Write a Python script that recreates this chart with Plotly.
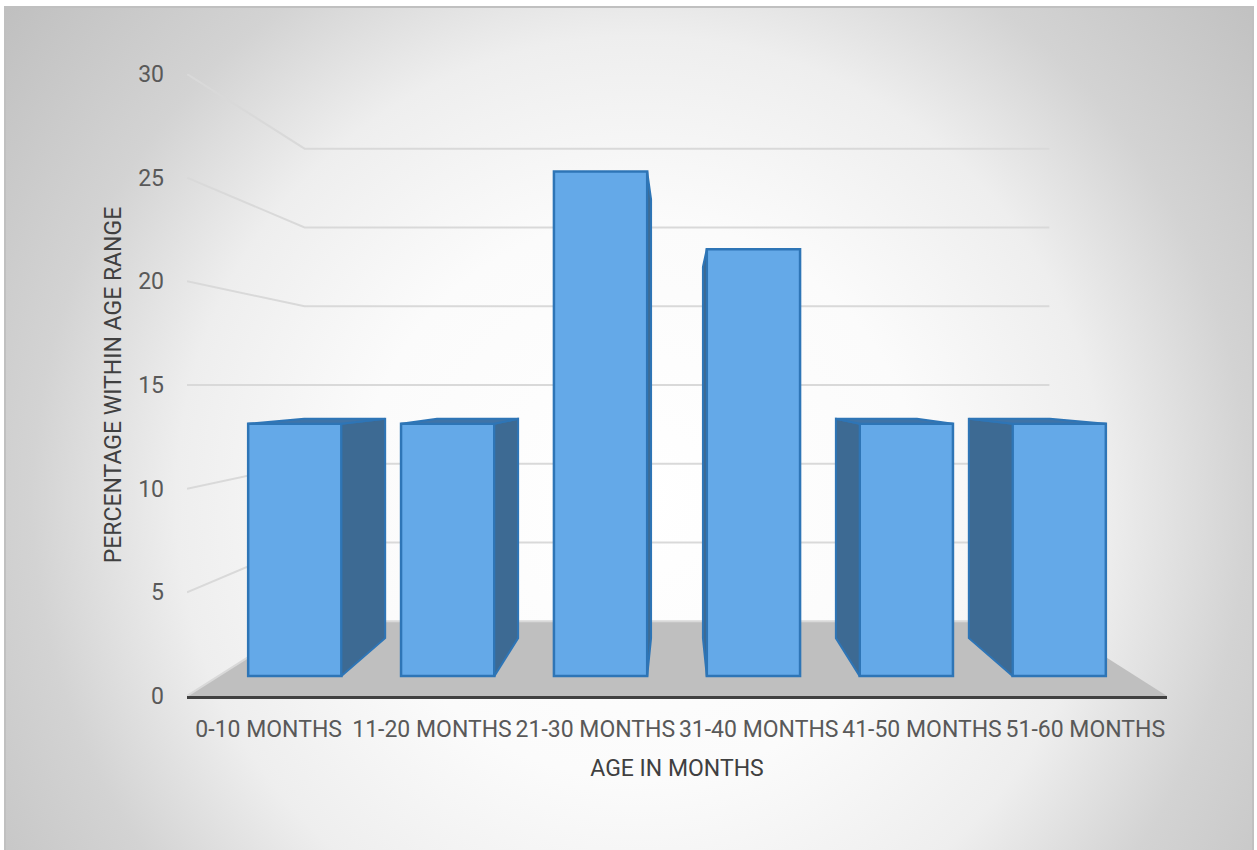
import base64
import plotly.graph_objects as go

# ---- data -------------------------------------------------------------
categories = ["0-10 MONTHS", "11-20 MONTHS", "21-30 MONTHS",
              "31-40 MONTHS", "41-50 MONTHS", "51-60 MONTHS"]
percentages = [13, 13, 26, 22, 13, 13]
y_ticks = [0, 5, 10, 15, 20, 25, 30]

# ---- pseudo-3D perspective (category units on x, value units on y) ----
VP_X = 2.5        # vanishing point, x
VP_Y = 15         # vanishing point, y (eye level)
S_WALL = 0.76     # scale of back wall / floor back edge
S_FRONT = 0.936   # scale of the bars' front faces
S_BACK = 0.814    # scale of the bars' back faces
HALF_W = 0.305    # half bar width (category units)
X_MIN, X_MAX = -0.5, len(categories) - 0.5

FACE = "#64a9e8"
SIDE = "#3d6a93"
TOP = "#3f74a8"
EDGE = "#2e75b6"
GRID = "#d9d9d9"
FLOOR = "#bfbfbf"


def proj(x, v, s):
    return VP_X + (x - VP_X) * s, VP_Y + (v - VP_Y) * s


def poly(points):
    xs = [p[0] for p in points] + [points[0][0], None]
    ys = [p[1] for p in points] + [points[0][1], None]
    return xs, ys


def svg_path(points, closed=True):
    d = "M " + " L ".join(f"{x:.5f},{y:.5f}" for x, y in points)
    return d + (" Z" if closed else "")


fig = go.Figure()

# floor and wall gridlines sit underneath all traces
shapes = [dict(type="path", xref="x", yref="y", layer="below",
               path=svg_path([proj(X_MIN, 0, 1), proj(X_MAX, 0, 1),
                              proj(X_MAX, 0, S_WALL), proj(X_MIN, 0, S_WALL)]),
               fillcolor=FLOOR, line=dict(width=0))]
for v in y_ticks:
    shapes.append(dict(type="path", xref="x", yref="y", layer="below",
                       path=svg_path([proj(X_MIN, v, 1), proj(X_MIN, v, S_WALL),
                                      proj(X_MAX, v, S_WALL)], closed=False),
                       line=dict(color=GRID, width=2)))

# front faces of the columns
front_base = proj(0, 0, S_FRONT)[1]
fig.add_trace(go.Bar(
    x=[proj(i, 0, S_FRONT)[0] for i in range(len(categories))],
    y=[v * S_FRONT for v in percentages],
    base=[front_base] * len(percentages),
    width=2 * HALF_W * S_FRONT,
    marker=dict(color=FACE, line=dict(color=EDGE, width=2.5)),
    customdata=percentages,
    hovertemplate="%{customdata}<extra></extra>",
))

# visible side faces and top faces of each column
sx, sy, tx, ty = [], [], [], []
for i, val in enumerate(percentages):
    xl, xr = i - HALF_W, i + HALF_W
    if xr < VP_X:
        px, py = poly([proj(xr, val, S_FRONT), proj(xr, val, S_BACK),
                       proj(xr, 0, S_BACK), proj(xr, 0, S_FRONT)])
        sx += px
        sy += py
    if xl > VP_X:
        px, py = poly([proj(xl, val, S_FRONT), proj(xl, val, S_BACK),
                       proj(xl, 0, S_BACK), proj(xl, 0, S_FRONT)])
        sx += px
        sy += py
    if val < VP_Y:
        px, py = poly([proj(xl, val, S_FRONT), proj(xr, val, S_FRONT),
                       proj(xr, val, S_BACK), proj(xl, val, S_BACK)])
        tx += px
        ty += py

fig.add_trace(go.Scatter(x=sx, y=sy, mode="lines", fill="toself",
                         fillcolor=SIDE, line=dict(color=EDGE, width=2),
                         hoverinfo="skip", cliponaxis=False))
fig.add_trace(go.Scatter(x=tx, y=ty, mode="lines", fill="toself",
                         fillcolor=TOP, line=dict(color=EDGE, width=2),
                         hoverinfo="skip", cliponaxis=False))

# chart-area background with radial shading
svg = (
    '<svg xmlns="http://www.w3.org/2000/svg" width="1257" height="850" '
    'viewBox="0 0 1257 850">'
    '<defs><radialGradient id="g" gradientUnits="userSpaceOnUse" '
    'cx="640" cy="500" r="800">'
    '<stop offset="0" stop-color="#ffffff"/>'
    '<stop offset="0.35" stop-color="#fbfbfb"/>'
    '<stop offset="0.58" stop-color="#eeeeee"/>'
    '<stop offset="0.76" stop-color="#d3d3d3"/>'
    '<stop offset="1" stop-color="#c0c0c0"/>'
    '</radialGradient></defs>'
    '<rect width="1257" height="850" fill="#ffffff"/>'
    '<rect x="5" y="7" width="1248" height="850" fill="url(#g)" '
    'stroke="#c0c0c0" stroke-width="2"/>'
    '</svg>'
)
bg_src = "data:image/svg+xml;base64," + base64.b64encode(svg.encode()).decode()

W, H = 1257, 850
ML, MR, MT, MB = 187, 90, 74, 154
PW, PH = W - ML - MR, H - MT - MB

fig.update_layout(
    width=W, height=H,
    margin=dict(l=ML, r=MR, t=MT, b=MB, pad=0),
    paper_bgcolor="#ffffff",
    plot_bgcolor="rgba(0,0,0,0)",
    showlegend=False,
    shapes=shapes,
    font=dict(family="Roboto, Arial, sans-serif", color="#595959"),
    images=[dict(source=bg_src, xref="paper", yref="paper",
                 x=-ML / PW, y=1 + MT / PH, sizex=W / PW, sizey=H / PH,
                 xanchor="left", yanchor="top", sizing="stretch",
                 layer="below")],
    xaxis=dict(
        range=[X_MIN, X_MAX],
        tickmode="array",
        tickvals=list(range(len(categories))),
        ticktext=categories,
        tickangle=0,
        tickfont=dict(size=23, color="#595959"),
        showgrid=False, zeroline=False,
        showline=True, linecolor="#404040", linewidth=3,
        ticks="", ticklabelstandoff=10,
        title=dict(text="AGE IN MONTHS", standoff=19,
                   font=dict(size=23, color="#404040")),
        fixedrange=True,
    ),
    yaxis=dict(
        range=[0, 30],
        tickmode="array",
        tickvals=y_ticks,
        tickfont=dict(size=23, color="#595959"),
        showgrid=False, zeroline=False, showline=False,
        ticks="", ticklabelstandoff=22,
        title=dict(text="PERCENTAGE WITHIN AGE RANGE", standoff=10,
                   font=dict(size=23, color="#404040")),
        fixedrange=True,
    ),
)

fig.write_html("out.html")
